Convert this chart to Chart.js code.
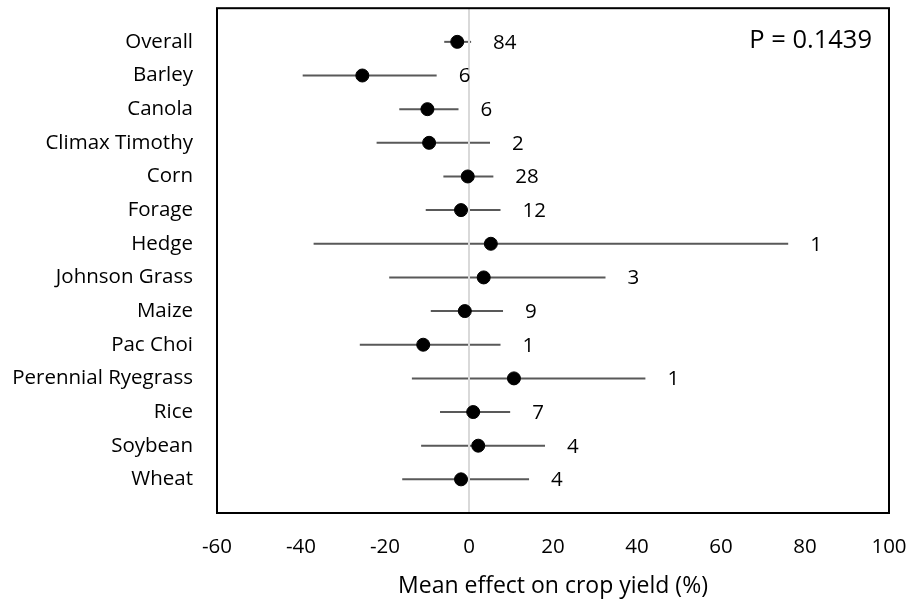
<!DOCTYPE html>
<html>
<head>
<meta charset="utf-8">
<script src="https://cdn.jsdelivr.net/npm/chart.js@4/dist/chart.umd.min.js"></script>
<style>
  html, body { margin: 0; padding: 0; background: #fff; }
  #wrap { width: 912px; height: 602px; }
</style>
</head>
<body>
<div id="wrap"><canvas id="chart" width="912" height="602"></canvas></div>
<script>
// --- data ---
const crops = ['Overall', 'Barley', 'Canola', 'Climax Timothy', 'Corn', 'Forage', 'Hedge',
  'Johnson Grass', 'Maize', 'Pac Choi', 'Perennial Ryegrass', 'Rice', 'Soybean', 'Wheat'];
const meanEffect = [-2.8, -25.4, -9.9, -9.5, -0.3, -1.9, 5.2, 3.5, -1.0, -10.9, 10.7, 1.0, 2.2, -1.9];
const lowerCI = [-5.9, -39.6, -16.6, -22.0, -6.1, -10.3, -37.0, -19.0, -9.1, -26.0, -13.6, -6.9, -11.4, -15.9];
const upperCI = [0.5, -7.7, -2.5, 5.0, 5.8, 7.5, 76.0, 32.5, 8.1, 7.5, 42.0, 9.8, 18.1, 14.3];
const studies = ['84', '6', '6', '2', '28', '12', '1', '3', '9', '1', '1', '7', '4', '4'];
const xTicks = { min: -60, max: 100, step: 20 };
const pValue = 'P = 0.1439';

const FONT = '"Open Sans", Lato, sans-serif';

const rowOf = i => i + 1;

// error bars + study counts + frame
const forestPlugin = {
  id: 'forest',
  beforeDatasetsDraw(chart) {
    const { ctx, scales: { x, y } } = chart;
    ctx.save();
    ctx.strokeStyle = '#595959';
    ctx.lineWidth = 2;
    crops.forEach((c, i) => {
      const py = y.getPixelForValue(rowOf(i));
      ctx.beginPath();
      ctx.moveTo(x.getPixelForValue(lowerCI[i]), py);
      ctx.lineTo(x.getPixelForValue(upperCI[i]), py);
      ctx.stroke();
    });
    ctx.restore();
  },
  afterDatasetsDraw(chart) {
    const { ctx, chartArea: a, scales: { x, y } } = chart;
    ctx.save();
    ctx.fillStyle = '#000';
    ctx.font = '20.5px ' + FONT;
    ctx.textBaseline = 'middle';
    ctx.textAlign = 'left';
    crops.forEach((c, i) => {
      ctx.fillText(studies[i], x.getPixelForValue(upperCI[i]) + 22, y.getPixelForValue(rowOf(i)) + 1);
    });
    ctx.font = '25.5px ' + FONT;
    ctx.textAlign = 'right';
    ctx.textBaseline = 'alphabetic';
    ctx.fillText(pValue, a.right - 17, a.top + 40);
    ctx.strokeStyle = '#000';
    ctx.lineWidth = 2;
    ctx.strokeRect(a.left, a.top, a.right - a.left, a.bottom - a.top);
    ctx.restore();
  }
};

new Chart(document.getElementById('chart'), {
  type: 'scatter',
  data: {
    datasets: [
      {
        label: 'zero',
        type: 'line',
        data: [{ x: 0, y: 0 }, { x: 0, y: crops.length + 1 }],
        borderColor: '#d9d9d9',
        borderWidth: 2,
        pointRadius: 0,
        order: 2
      },
      {
        label: 'mean',
        data: meanEffect.map((v, i) => ({ x: v, y: rowOf(i) })),
        backgroundColor: '#000',
        borderColor: '#000',
        pointRadius: 6.5,
        pointHoverRadius: 6.5,
        order: 1
      }
    ]
  },
  options: {
    responsive: false,
    animation: false,
    events: [],
    layout: { padding: { top: 8, right: 23, left: 0, bottom: 0 } },
    plugins: { legend: { display: false }, tooltip: { enabled: false } },
    scales: {
      x: {
        type: 'linear',
        min: xTicks.min,
        max: xTicks.max,
        ticks: { stepSize: xTicks.step, color: '#000', font: { family: FONT, size: 20.5, lineHeight: 0.8 }, padding: 0 },
        grid: { display: false, drawTicks: true, tickLength: 26 },
        border: { display: false },
        title: {
          display: true,
          text: 'Mean effect on crop yield (%)',
          color: '#000',
          font: { family: FONT, size: 23, lineHeight: 1 },
          padding: { top: 14, bottom: 4 }
        },
        afterFit: s => { s.height = 89; }
      },
      y: {
        type: 'linear',
        reverse: true,
        min: 0,
        max: crops.length + 1,
        afterBuildTicks: s => { s.ticks = crops.map((c, i) => ({ value: rowOf(i) })); },
        ticks: {
          color: '#000',
          font: { family: FONT, size: 20.5, lineHeight: 0.8 },
          padding: 0,
          autoSkip: false,
          callback: v => crops[v - 1]
        },
        grid: { display: false, drawTicks: true, tickLength: 24 },
        border: { display: false },
        afterFit: s => { s.width = 217; }
      }
    }
  },
  plugins: [forestPlugin]
});
</script>
</body>
</html>
